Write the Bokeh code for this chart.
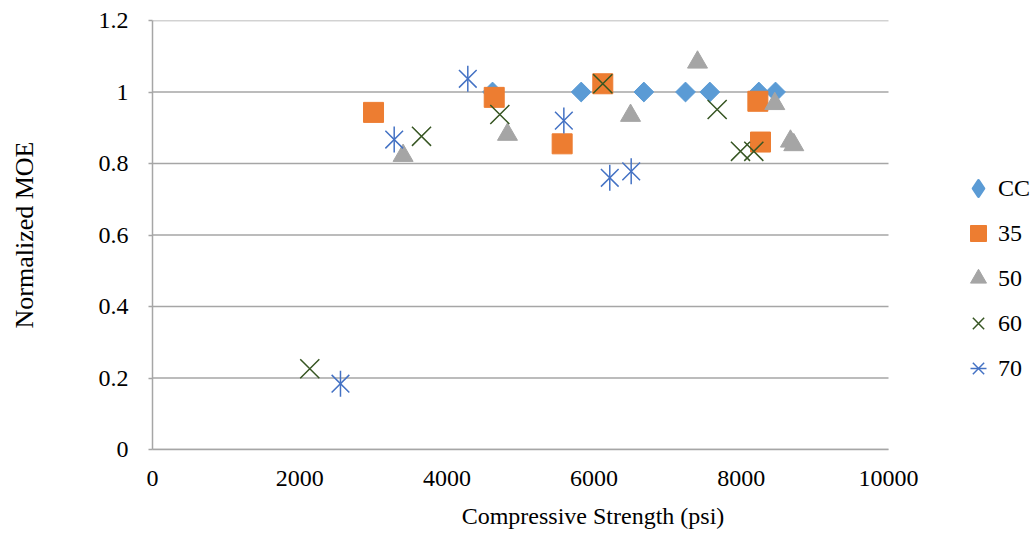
from bokeh.plotting import figure
from bokeh.models import (Range1d, FixedTicker, Legend, LegendItem)
from bokeh.embed import file_html
from bokeh.resources import INLINE
import math

# Compressive strength (psi) vs. normalized modulus of elasticity, per mix
cc_x = [4620, 5825, 6676, 7242, 7572, 8238, 8465]
cc_y = [1.0, 1.0, 1.0, 1.0, 1.0, 1.0, 1.0]

m35_x = [3003, 4643, 5566, 6118, 8225, 8261]
m35_y = [0.943, 0.985, 0.855, 1.023, 0.974, 0.860]

m50_x = [3405, 4823, 6495, 7405, 8455, 8668, 8713]
m50_y = [0.822, 0.881, 0.934, 1.083, 0.967, 0.862, 0.852]

m60_x = [2137, 3655, 4719, 6118, 7672, 7989, 8170]
m60_y = [0.226, 0.876, 0.937, 1.023, 0.951, 0.834, 0.834]

m70_x = [2554, 3284, 4284, 5589, 6213, 6504]
m70_y = [0.184, 0.867, 1.037, 0.920, 0.760, 0.778]

x_min, x_max = 0, 10000
y_min, y_max = 0, 1.2
x_ticks = [0, 2000, 4000, 6000, 8000, 10000]
y_ticks = [0, 0.2, 0.4, 0.6, 0.8, 1, 1.2]
y_tick_labels = {0: "0", 0.2: "0.2", 0.4: "0.4", 0.6: "0.6", 0.8: "0.8", 1: "1", 1.2: "1.2"}

FONT = "Liberation Serif"
FS = "24px"
GRID = "#A6A6A6"

# The frame runs on to the right edge so the legend can sit beside the data
# area; the axis and grid lines stop at x_max.
W, H = 1033, 535
LEFT, BOTTOM, TOP = 152, 86, 20
DATA_W = 736
frame_w = W - LEFT
x_end = x_max * frame_w / DATA_W

p = figure(width=W, height=H, output_backend="svg", toolbar_location=None,
           x_range=Range1d(x_min, x_end), y_range=Range1d(y_min, y_max),
           min_border_left=LEFT, min_border_right=0, min_border_top=TOP,
           min_border_bottom=BOTTOM)
p.outline_line_color = None
p.background_fill_color = "white"
p.border_fill_color = "white"

# horizontal grid lines, limited to the data area
p.xgrid.visible = False
p.ygrid.visible = False
p.segment(x0=x_min, x1=x_max, y0=y_ticks, y1=y_ticks,
          line_color=GRID, line_width=1.5)

# axes
p.xaxis.ticker = FixedTicker(ticks=x_ticks)
p.xaxis.bounds = (x_min, x_max)
p.yaxis.ticker = FixedTicker(ticks=y_ticks)
p.yaxis.major_label_overrides = y_tick_labels
for ax in (p.xaxis[0], p.yaxis[0]):
    ax.axis_line_color = GRID
    ax.axis_line_width = 1.5
    ax.minor_tick_line_color = None
    ax.major_label_text_font = FONT
    ax.major_label_text_font_size = FS
    ax.major_label_text_color = "black"
    ax.axis_label_text_font = FONT
    ax.axis_label_text_font_style = "normal"
    ax.axis_label_text_color = "black"
p.xaxis.major_tick_line_color = None
p.xaxis.major_tick_out = 0
p.xaxis.major_tick_in = 0
p.xaxis.major_label_standoff = 21
p.xaxis.axis_label = "Compressive Strength (psi)"
p.xaxis.axis_label_text_font_size = FS
p.xaxis.axis_label_standoff = 14
p.yaxis.major_tick_line_color = GRID
p.yaxis.major_tick_line_width = 1.5
p.yaxis.major_tick_out = 4
p.yaxis.major_tick_in = 0
p.yaxis.major_label_standoff = 20
p.yaxis.axis_label = "Normalized MOE"
p.yaxis.axis_label_text_font_size = "26px"
p.yaxis.axis_label_standoff = 57

# series
r_cc = p.scatter(cc_x, cc_y, marker="square", angle=math.pi / 4, size=14,
                 fill_color="#5B9BD5", line_color="#5B9BD5")
r35 = p.scatter(m35_x, m35_y, marker="square", size=20,
                fill_color="#ED7D31", line_color="#ED7D31")
r50 = p.scatter(m50_x, m50_y, marker="triangle", size=20,
                fill_color="#A5A5A5", line_color="#A5A5A5")
r60 = p.scatter(m60_x, m60_y, marker="x", size=27,
                line_color="#375623", line_width=1.5)
r70a = p.scatter(m70_x, m70_y, marker="x", size=25,
                 line_color="#4472C4", line_width=1.5)
r70b = p.scatter(m70_x, m70_y, marker="dash", angle=math.pi / 2, size=26,
                 line_color="#4472C4", line_width=1.5)

# legend key for CC: a diamond glyph (legend keys are drawn unrotated)
r_cc_key = p.scatter(cc_x, cc_y, marker="diamond", size=20,
                     fill_color="#5B9BD5", line_color="#5B9BD5",
                     line_width=3, line_join="round", visible=False)

legend = Legend(items=[
    LegendItem(label="CC", renderers=[r_cc_key]),
    LegendItem(label="35", renderers=[r35]),
    LegendItem(label="50", renderers=[r50]),
    LegendItem(label="60", renderers=[r60]),
    LegendItem(label="70", renderers=[r70a, r70b]),
], location=(806, 61), orientation="vertical")
legend.glyph_width = 40
legend.glyph_height = 40
legend.label_height = 40
legend.spacing = 5
legend.padding = 0
legend.margin = 0
legend.label_standoff = 0
legend.label_text_font = FONT
legend.label_text_font_size = FS
legend.label_text_color = "black"
legend.border_line_color = None
legend.background_fill_alpha = 0
p.add_layout(legend)

open("out.html", "w").write(file_html(p, INLINE))
